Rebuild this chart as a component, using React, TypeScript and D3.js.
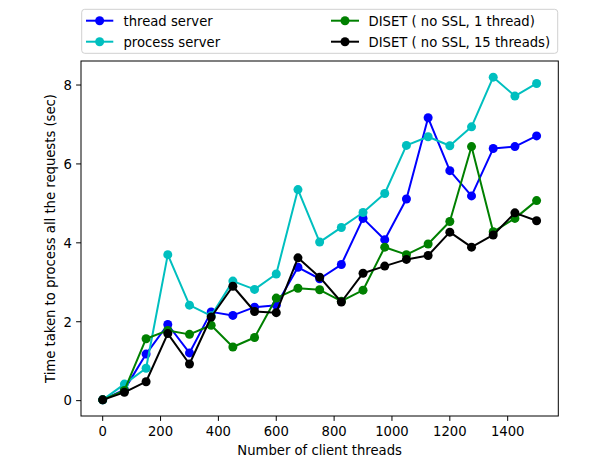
import React from "react";
import * as d3 from "d3";

const xs = [0, 75, 150, 225, 300, 375, 450, 525, 600, 675, 750, 825, 900, 975, 1050, 1125, 1200, 1275, 1350, 1425, 1500];
const threadServer = [0.02, 0.28, 1.18, 1.93, 1.21, 2.25, 2.16, 2.37, 2.42, 3.38, 3.09, 3.45, 4.62, 4.08, 5.11, 7.17, 5.83, 5.19, 6.39, 6.44, 6.71];
const processServer = [0.02, 0.42, 0.82, 3.7, 2.42, 2.15, 3.03, 2.82, 3.21, 5.35, 4.02, 4.39, 4.77, 5.25, 6.47, 6.69, 6.46, 6.94, 8.2, 7.72, 8.04];
const diset1 = [0.02, 0.26, 1.57, 1.78, 1.68, 1.91, 1.36, 1.6, 2.6, 2.85, 2.81, 2.52, 2.8, 3.89, 3.7, 3.97, 4.54, 6.44, 4.28, 4.62, 5.07];
const diset15 = [0.02, 0.21, 0.48, 1.7, 0.93, 2.12, 2.9, 2.26, 2.23, 3.62, 3.13, 2.5, 3.23, 3.41, 3.58, 3.68, 4.27, 3.89, 4.2, 4.76, 4.56];

const seriesNames = ["thread server", "process server", "DISET ( no SSL, 1 thread)", "DISET ( no SSL, 15 threads)"];
const seriesValues = [threadServer, processServer, diset1, diset15];
const seriesColors = ["#0000ff", "#00bfbf", "#008000", "#000000"];
const xTicks = [0, 200, 400, 600, 800, 1000, 1200, 1400];
const yTicks = [0, 2, 4, 6, 8];

const W = 613, H = 465;
const L = 81, R = 558.3, T = 61, B = 416;
const FONT = "DejaVu Sans, sans-serif";
const FS = 13.2;

export default function App() {
  const xMin = d3.min(xs)!, xMax = d3.max(xs)!;
  const xPad = (xMax - xMin) * 0.05;
  const x = d3.scaleLinear().domain([xMin - xPad, xMax + xPad]).range([L, R]);
  const all = seriesValues.flat();
  const yMin = d3.min(all)!, yMax = d3.max(all)!;
  const yPad = (yMax - yMin) * 0.05;
  const y = d3.scaleLinear().domain([yMin - yPad, yMax + yPad]).range([B, T]);
  const line = d3.line<number>().x((_, i) => x(xs[i])).y((d) => y(d));

  const legendCols = [
    { hx0: 86, hx1: 113.3, tx: 123.5 },
    { hx0: 331, hx1: 359, tx: 368.5 },
  ];
  const legendRows = [20.7, 41.7];

  return (
    <svg width={W} height={H} style={{ position: "absolute", left: 0, top: 0, background: "#fff" }} fontFamily={FONT}>
      <rect x={0} y={0} width={W} height={H} fill="#fff" />
      <rect x={L} y={T} width={R - L} height={B - T} fill="#fff" />
      {seriesValues.map((vals, si) => (
        <g key={si}>
          <path d={line(vals)!} fill="none" stroke={seriesColors[si]} strokeWidth={2} strokeLinejoin="round" />
          {vals.map((v, i) => (
            <circle key={i} cx={x(xs[i])} cy={y(v)} r={4.5} fill={seriesColors[si]} />
          ))}
        </g>
      ))}
      <rect x={L} y={T} width={R - L} height={B - T} fill="none" stroke="#000" strokeWidth={1} />
      {xTicks.map((t) => (
        <g key={t}>
          <line x1={x(t)} x2={x(t)} y1={B} y2={B + 4.9} stroke="#000" strokeWidth={1} />
          <text x={x(t)} y={B + 20} fontSize={FS} textAnchor="middle" fill="#000">{t}</text>
        </g>
      ))}
      {yTicks.map((t) => (
        <g key={t}>
          <line x1={L - 4.9} x2={L} y1={y(t)} y2={y(t)} stroke="#000" strokeWidth={1} />
          <text x={L - 9} y={y(t) + 4.8} fontSize={FS} textAnchor="end" fill="#000">{t}</text>
        </g>
      ))}
      <text x={(L + R) / 2} y={455} fontSize={FS} textAnchor="middle" fill="#000">Number of client threads</text>
      <text transform={`translate(54.5, ${(T + B) / 2}) rotate(-90)`} fontSize={FS} textAnchor="middle" fill="#000">
        Time taken to process all the requests (sec)
      </text>
      <rect x={81.7} y={9.3} width={476} height={44} rx={3} fill="#fff" stroke="#d0d0d0" strokeWidth={1} />
      {seriesNames.map((name, si) => {
        const col = legendCols[Math.floor(si / 2)];
        const ry = legendRows[si % 2];
        return (
          <g key={name}>
            <line x1={col.hx0} x2={col.hx1} y1={ry} y2={ry} stroke={seriesColors[si]} strokeWidth={2} />
            <circle cx={(col.hx0 + col.hx1) / 2} cy={ry} r={4.5} fill={seriesColors[si]} />
            <text x={col.tx} y={ry + 4.8} fontSize={FS} fill="#000">{name}</text>
          </g>
        );
      })}
    </svg>
  );
}
